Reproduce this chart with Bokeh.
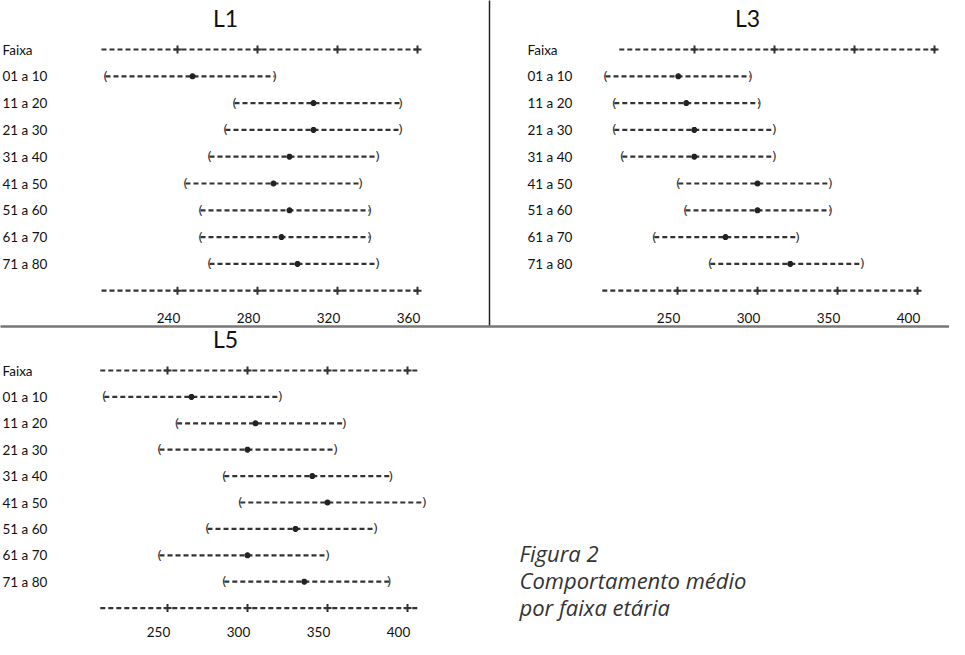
from bokeh.plotting import figure
from bokeh.models import Range1d
from bokeh.core.properties import value
from bokeh.embed import file_html
from bokeh.resources import INLINE

# ---------------- data ----------------
header = "Faixa"
faixas = ["01 a 10", "11 a 20", "21 a 30", "31 a 40",
          "41 a 50", "51 a 60", "61 a 70", "71 a 80"]

L1_lower = [204, 268.5, 264, 256, 244, 251.5, 251.5, 256]
L1_mean = [247.5, 308, 308, 296, 288, 296, 292, 300]
L1_upper = [288.5, 351.5, 351.5, 340, 331.5, 336, 336, 340]
L1_ticks = [240, 280, 320, 360]

L3_lower = [205, 210.5, 210.5, 215.5, 250.5, 255, 235.5, 270.5]
L3_mean = [250.5, 255.5, 260.5, 260.5, 300, 300, 280, 320.5]
L3_upper = [295.5, 301, 310.5, 310.5, 345.5, 345.5, 325, 365.5]
L3_ticks = [250, 300, 350, 400]

L5_lower = [210.5, 256, 245, 285.5, 295.5, 275, 245, 285.5]
L5_mean = [265, 305, 300, 340.5, 350, 330, 300, 335.5]
L5_upper = [320.5, 360.5, 355, 389.5, 410.5, 380, 350, 388.5]
L5_ticks = [250, 300, 350, 400]

caption = ["Figura 2", "Comportamento médio", "por faixa etária"]

# ---------------- layout ----------------
W, H = 949, 639
FONT = value("Lato")
INK = "#222222"
DASH = "#333333"

p = figure(width=W, height=H, x_range=Range1d(0, W), y_range=Range1d(H, 0),
           output_backend="svg", toolbar_location=None, min_border=0)
p.axis.visible = False
p.grid.visible = False
p.outline_line_color = None
p.background_fill_color = "white"
p.border_fill_color = "white"

p.extra_x_ranges = {
    "L1": Range1d(151.5, 626),
    "L3": Range1d(-173.125, 420),
    "L3top": Range1d(-183.75, 409.375),
    "L5": Range1d(145.625, 738.75),
}


def panel(title, title_x, title_y, label_x, y0, dy, rng_top, rng_bot,
          lower, mean, upper, ticks, ax_start, ax_end, tick_label_y):
    p.text(x=[title_x], y=[title_y], text=[title], text_font=FONT,
           text_font_size="23px", text_align="center", text_baseline="middle",
           text_color="#111111")
    rows_y = [y0 + (i + 1) * dy for i in range(len(faixas))]
    p.text(x=[label_x] * (len(faixas) + 1), y=[y0] + rows_y,
           text=[header] + faixas, text_font=FONT, text_font_size="13.5px",
           text_align="left", text_baseline="middle", text_color="#111111")
    # rulers top / bottom
    ybot = y0 + (len(faixas) + 1) * dy
    for rng, yy in ((rng_top, y0), (rng_bot, ybot)):
        p.line([ax_start, ax_end], [yy, yy], x_range_name=rng,
               line_dash="5 3", line_width=2.2, line_color=DASH)
        p.scatter(ticks, [yy] * len(ticks), x_range_name=rng, marker="cross",
                  size=8, line_width=2, line_color=DASH)
    p.text(x=ticks, y=[tick_label_y] * len(ticks), text=[str(t) for t in ticks],
           x_range_name=rng_bot, x_offset=-9, text_font=FONT,
           text_font_size="13.5px", text_align="center", text_baseline="middle",
           text_color="#111111")
    # intervals
    p.segment(x0=lower, y0=rows_y, x1=upper, y1=rows_y, x_range_name=rng_bot,
              line_dash="5 3", line_width=2.2, line_color=DASH)
    p.text(x=lower, y=rows_y, text=["("] * len(lower), x_range_name=rng_bot,
           text_font=value("DejaVu Sans"), text_font_size="13px",
           text_align="center", text_baseline="middle", text_color=DASH)
    p.text(x=upper, y=rows_y, text=[")"] * len(upper), x_range_name=rng_bot,
           text_font=value("DejaVu Sans"), text_font_size="13px",
           text_align="center", text_baseline="middle", text_color=DASH)
    p.scatter(mean, rows_y, x_range_name=rng_bot, marker="asterisk", size=6,
              line_width=2, line_color=INK)


panel("L1", 225, 17, 2, 49, 26.8, "L1", "L1",
      L1_lower, L1_mean, L1_upper, L1_ticks, 202, 361, 317)
panel("L3", 747, 17, 527, 49, 26.8, "L3top", "L3",
      L3_lower, L3_mean, L3_upper, L3_ticks, 203, 401.5, 317)
panel("L5", 225, 338, 2, 370, 26.4, "L5", "L5",
      L5_lower, L5_mean, L5_upper, L5_ticks, 208, 407.5, 631)

# dividers
p.line([489, 489], [-5, 326], line_color=INK, line_width=1.5)
p.line([-5, W + 5], [326, 326], line_color="#777777", line_width=2.5)

# caption
p.text(x=[519] * 3, y=[552, 579, 606], text=caption,
       text_font=value("Open Sans"), text_font_style="italic",
       text_font_size="22px", text_align="left",
       text_baseline="middle", text_color="#333333")

open("out.html", "w").write(file_html(p, INLINE))
